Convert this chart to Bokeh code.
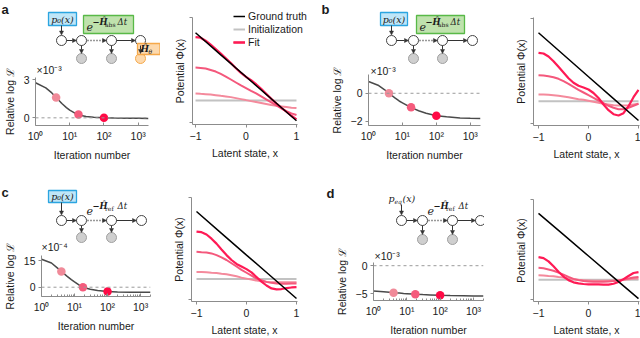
from bokeh.plotting import figure
from bokeh.models import (Range1d, FixedTicker, Span, Label, Legend, LegendItem,
                          Arrow, NormalHead, GridBox, CustomJSTickFormatter)
from bokeh.embed import file_html
from bokeh.resources import INLINE

# ---------------- data ----------------
iterations = [1, 2, 3, 4, 6, 8, 10, 15, 20, 30, 50, 100, 200, 500, 1000, 2000]
logL_a = [2.75, 2.35, 1.95, 1.6, 1.1, 0.8, 0.6, 0.33, 0.2, 0.11, 0.05, 0.01, -0.01, -0.03, -0.04, -0.05]
logL_b = [0.84, 0.55, 0.25, 0.0, -0.33, -0.55, -0.68, -0.92, -1.06, -1.25, -1.42, -1.6, -1.68, -1.76, -1.79, -1.8]
logL_c = [16, 13.8, 11, 9, 6.2, 4.3, 3.0, 0.7, -0.3, -1.2, -1.9, -2.5, -2.75, -2.85, -2.9, -2.9]
logL_d = [-4.5, -4.62, -4.72, -4.8, -4.88, -4.94, -4.98, -5.05, -5.1, -5.15, -5.2, -5.27, -5.32, -5.36, -5.39, -5.4]

snap_iters = [4, 18, 100]
snap_a = [1.6, 0.26, 0.0]
snap_b = [0.0, -1.0, -1.6]
snap_c = [9, 0, -2.5]
snap_d = [-4.8, -5.1, -5.27]

log_ticks = [1, 10, 100, 1000]
log_tick_labels = ["10⁰", "10¹", "10²", "10³"]
log_minor_ticks = [2, 3, 4, 5, 6, 7, 8, 9, 20, 30, 40, 50, 60, 70, 80, 90,
                   200, 300, 400, 500, 600, 700, 800, 900, 2000]
yticks_a, yticks_b, yticks_c, yticks_d = [0, 3], [-2, 0], [0, 15], [-5, 0]
mult_a, mult_b, mult_c, mult_d = "×10⁻³", "×10⁻³", "×10⁻⁴", "×10⁻³"

latent_x = [-1.0, -0.9, -0.8, -0.7, -0.6, -0.5, -0.4, -0.3, -0.2, -0.1, 0.0,
            0.1, 0.2, 0.3, 0.4, 0.5, 0.6, 0.7, 0.8, 0.9, 1.0]
truth_x = [-1.0, -0.5, 0.0, 0.5, 1.0]
init_x = [-1.0, 1.0]
pot_ticks = [-1, 0, 1]
legend_labels = ["Ground truth", "Initialization", "Fit"]

truth_a = [8.97, 6.75, 4.55, 2.34, 0.13]
init_a = [2.17, 2.17]
fit_a_early = [2.87, 2.83, 2.8, 2.77, 2.7, 2.63, 2.57, 2.5, 2.4, 2.3, 2.2, 2.1, 2.0, 1.9, 1.8, 1.7, 1.63, 1.57, 1.5, 1.43, 1.4]
fit_a_mid = [5.47, 5.43, 5.37, 5.23, 5.07, 4.83, 4.57, 4.27, 3.97, 3.67, 3.4, 3.13, 2.87, 2.57, 2.27, 1.97, 1.67, 1.37, 1.1, 0.87, 0.7]
fit_a_final = [8.53, 8.47, 8.17, 7.77, 7.33, 6.87, 6.4, 5.93, 5.4, 4.93, 4.53, 4.2, 3.8, 3.33, 2.83, 2.33, 1.87, 1.43, 1.03, 0.63, 0.27]

truth_b = [8.97, 6.78, 4.58, 2.39, 0.2]
init_b = [2.13, 2.13]
fit_b_early = [2.8, 2.8, 2.77, 2.73, 2.67, 2.6, 2.53, 2.43, 2.33, 2.27, 2.17, 2.07, 1.97, 1.87, 1.8, 1.73, 1.7, 1.7, 1.73, 1.8, 1.87]
fit_b_mid = [4.73, 4.7, 4.63, 4.53, 4.37, 4.13, 3.87, 3.57, 3.27, 3.0, 2.73, 2.47, 2.2, 1.93, 1.67, 1.47, 1.33, 1.33, 1.47, 1.67, 1.87]
fit_b_final = [6.97, 6.9, 6.6, 6.13, 5.57, 5.0, 4.43, 3.97, 3.67, 3.5, 3.3, 2.95, 2.45, 1.8, 1.23, 0.83, 0.7, 0.93, 1.63, 2.53, 3.27]

truth_c = [8.97, 6.75, 4.53, 2.32, 0.1]
init_c = [2.1, 2.1]
fit_c_early = [2.8, 2.8, 2.77, 2.73, 2.7, 2.63, 2.57, 2.47, 2.37, 2.23, 2.13, 2.03, 1.93, 1.87, 1.8, 1.77, 1.77, 1.77, 1.77, 1.77, 1.77]
fit_c_mid = [4.87, 4.83, 4.8, 4.7, 4.53, 4.3, 4.03, 3.7, 3.37, 3.03, 2.73, 2.43, 2.13, 1.97, 1.8, 1.7, 1.63, 1.6, 1.6, 1.63, 1.63]
fit_c_final = [6.93, 6.87, 6.63, 6.2, 5.7, 5.1, 4.53, 4.03, 3.63, 3.37, 3.1, 2.77, 2.3, 1.83, 1.43, 1.13, 1.03, 1.07, 1.17, 1.23, 1.27]

truth_d = [8.87, 6.68, 4.48, 2.29, 0.1]
init_d = [2.03, 2.03]
fit_d_early = [2.5, 2.47, 2.43, 2.4, 2.33, 2.27, 2.17, 2.1, 2.03, 2.0, 1.97, 1.93, 1.93, 1.93, 1.93, 1.97, 2.0, 2.03, 2.1, 2.13, 2.17]
fit_d_mid = [3.27, 3.23, 3.1, 2.97, 2.77, 2.57, 2.33, 2.13, 2.0, 1.9, 1.87, 1.83, 1.83, 1.83, 1.87, 1.9, 1.97, 2.07, 2.17, 2.27, 2.33]
fit_d_final = [4.37, 4.27, 3.93, 3.43, 2.87, 2.37, 2.0, 1.77, 1.67, 1.6, 1.57, 1.57, 1.57, 1.53, 1.53, 1.63, 1.8, 2.1, 2.43, 2.73, 2.83]

# ---------------- style ----------------
SANS = "Liberation Sans"
SERIF = "DejaVu Serif"
AXIS = "#8c8c8c"
TXT = "#1a1a1a"
FIT_COLORS = ["#f48a9c", "#f4587c", "#ff1a55"]
FIT_WIDTHS = [2, 2, 2.2]
SNAP_COLORS = ["#f08a99", "#f55b7c", "#ff0a45"]
INIT_COLOR = "#c2c2c2"


def base_fig(cell, x_range, y_range, frame=None, **kw):
    cl, ct, cr, cb = cell
    fl, ft, fr, fb = frame if frame else cell
    p = figure(width=int(cr - cl), height=int(cb - ct), x_range=x_range, y_range=y_range,
               output_backend="svg", toolbar_location=None, title=None,
               min_border_left=int(round(fl - cl)), min_border_right=int(round(cr - fr)),
               min_border_top=int(round(ft - ct)), min_border_bottom=int(round(cb - fb)), **kw)
    p.frame_align = False
    p.outline_line_color = None
    p.grid.visible = False
    p.background_fill_alpha = 0
    p.border_fill_alpha = 0
    return p


def blank_axes(p):
    """Keep the axes (so the figure lays out normally) but make them empty and zero-sized."""
    for ax in p.axis:
        ax.ticker = FixedTicker(ticks=[])
        ax.formatter = CustomJSTickFormatter(code="return ''")
        ax.axis_line_color = None
        ax.major_tick_line_color = None
        ax.minor_tick_line_color = None
        ax.major_tick_in = 0
        ax.major_tick_out = 0
        ax.minor_tick_in = 0
        ax.minor_tick_out = 0
        ax.major_label_standoff = 0
        ax.axis_label_standoff = 0


def style_axis(ax, label, lab_standoff, ax_standoff, tick_in, tick_out):
    ax.axis_label = label
    ax.axis_label_text_font = SANS
    ax.axis_label_text_font_size = "10.5px"
    ax.axis_label_text_font_style = "normal"
    ax.axis_label_text_color = TXT
    ax.axis_label_standoff = ax_standoff
    ax.major_label_text_font = SANS
    ax.major_label_text_font_size = "10.5px"
    ax.major_label_text_color = TXT
    ax.major_label_standoff = lab_standoff
    ax.axis_line_color = AXIS
    ax.major_tick_line_color = AXIS
    ax.minor_tick_line_color = AXIS
    ax.major_tick_in = tick_in
    ax.major_tick_out = tick_out
    ax.minor_tick_in = 2
    ax.minor_tick_out = 0


def logl_panel(cell, frame, yr, yticks, curve, snaps, minor):
    p = base_fig(cell, Range1d(1, 2000), Range1d(*yr), frame, x_axis_type="log")
    p.add_layout(Span(location=0, dimension="width", line_color="#9a9a9a",
                      line_dash="3 3", line_width=1))
    p.line(iterations, curve, line_color="#4a4a4a", line_width=1.5)
    p.scatter(snap_iters, snaps, size=8.5, fill_color=SNAP_COLORS, line_color=None)
    xa = p.xaxis[0]
    xa.ticker = FixedTicker(ticks=log_ticks, minor_ticks=log_minor_ticks if minor else [])
    xa.major_label_overrides = {t: l for t, l in zip(log_ticks, log_tick_labels)}
    style_axis(xa, "Iteration number", 4, 4, 3, 0)
    ya = p.yaxis[0]
    ya.ticker = FixedTicker(ticks=yticks)
    style_axis(ya, "Relative log ℒ", 3, 5, 0, 3)
    return p


def pot_panel(cell, frame, xr, yr, truth, init, fits):
    p = base_fig(cell, Range1d(*xr), Range1d(*yr), frame)
    p.line(init_x, init, line_color=INIT_COLOR, line_width=2)
    for f, c, w in zip(fits, FIT_COLORS, FIT_WIDTHS):
        p.line(latent_x, f, line_color=c, line_width=w)
    p.line(truth_x, truth, line_color="black", line_width=1.5)
    xa = p.xaxis[0]
    xa.ticker = FixedTicker(ticks=pot_ticks)
    style_axis(xa, "Latent state, x", 4, 4, 0, 3)
    ya = p.yaxis[0]
    ya.ticker = FixedTicker(ticks=[yr[0] + 0.2, yr[1] - 0.05])
    ya.formatter = CustomJSTickFormatter(code="return ''")
    style_axis(ya, "Potential Φ(x)", 0, 4, 0, 3)
    return p


def legend_overlay(cell, loc, truth, init, fits):
    """Transparent figure laid over panel a's potential plot, holding its legend.
    Its proxy lines use panel a's data but lie outside this figure's visible ranges."""
    p = base_fig(cell, Range1d(100, 101), Range1d(100, 101))
    blank_axes(p)
    r_truth = p.line(truth_x, truth, line_color="black", line_width=1.5)
    r_init = p.line(init_x, init, line_color=INIT_COLOR, line_width=2)
    r_fit = [p.line(latent_x, f, line_color=c, line_width=w)
             for f, c, w in zip(fits, FIT_COLORS, FIT_WIDTHS)]
    leg = Legend(items=[LegendItem(label=legend_labels[0], renderers=[r_truth]),
                        LegendItem(label=legend_labels[1], renderers=[r_init]),
                        LegendItem(label=legend_labels[2], renderers=r_fit)],
                 location=loc, border_line_color=None, background_fill_alpha=0,
                 padding=0, margin=0, spacing=1, label_height=12, glyph_height=12,
                 glyph_width=12, label_standoff=3, label_text_font=SANS,
                 label_text_font_size="10.5px", label_text_color=TXT)
    p.add_layout(leg)
    return p


# ---------------- schematic diagrams ----------------
def diag_fig(cell):
    cl, ct, cr, cb = cell
    p = base_fig(cell, Range1d(cl, cr), Range1d(cb, ct))
    blank_axes(p)
    return p


def txt(p, x, y, s, size, font=SERIF, style="italic", align="left", baseline="middle", color=TXT):
    p.add_layout(Label(x=x, y=y, text=s, text_font=font, text_font_size=size,
                       text_font_style=style, text_align=align, text_baseline=baseline,
                       text_color=color))


def arrow(p, x0, y0, x1, y1, dash="solid", width=1.0):
    p.add_layout(Arrow(end=NormalHead(size=4, fill_color="#333", line_color="#333", line_width=0.5),
                       x_start=x0, y_start=y0, x_end=x1, y_end=y1,
                       line_color="#333", line_width=width, line_dash=dash))


def chain(p, nodes_x, node_y, obs_x, obs_y, obs_fill, obs_line, r=5):
    for i in range(len(nodes_x) - 1):
        if i == 1:
            arrow(p, nodes_x[i] + r + 1, node_y, nodes_x[i + 1] - r, node_y, dash="1 2", width=1.6)
        else:
            arrow(p, nodes_x[i] + r, node_y, nodes_x[i + 1] - r, node_y)
    for ox in obs_x:
        arrow(p, ox, node_y + r, ox, obs_y - r)
    p.circle(obs_x, [obs_y] * len(obs_x), radius=r, fill_color=obs_fill,
             line_color=obs_line, line_width=1)
    p.circle(nodes_x, [node_y] * len(nodes_x), radius=r, fill_color="white",
             line_color="#444", line_width=1)


def box(p, l, t, r, b, fill, line):
    p.quad(left=[l], right=[r], top=[t], bottom=[b], fill_color=fill, line_color=line,
           line_width=1.3)


def exponent(p, x, y, sub):
    txt(p, x, y, "e", "11px")
    txt(p, x + 6, y - 5, "−Ĥ", "8.5px", style="bold italic")
    txt(p, x + 18.5, y - 2.5, sub, "6px", style="normal")
    txt(p, x + 31, y - 5, "Δt", "8.5px")


def p0_box(p, l, t, r, b):
    box(p, l, t, r, b, "#bfe6f8", "#2ba5e0")
    txt(p, (l + r) / 2, (t + b) / 2, "p₀(x)", "9.5px", align="center")


GRAY_FILL, GRAY_LINE = "#cfcfcf", "#a0a0a0"
ORANGE_FILL, ORANGE_LINE = "#fdd9ad", "#f6a94a"

CELL_A_L, CELL_A_R = (0, 0, 160, 168), (160, 0, 320, 168)
CELL_B_L, CELL_B_R = (320, 0, 484, 168), (484, 0, 640, 168)
CELL_C_L, CELL_C_R = (0, 168, 160, 338), (160, 168, 320, 338)
CELL_D_L, CELL_D_R = (320, 168, 484, 338), (484, 168, 640, 338)

# panel a diagram
dA = diag_fig(CELL_A_L)
txt(dA, 1, 1, "a", "13px", font=SANS, style="bold", baseline="top")
p0_box(dA, 48, 12, 76, 25)
arrow(dA, 61, 25, 61, 34.5)
box(dA, 83, 15, 133, 33, "#bfe2ad", "#58b947")
exponent(dA, 86, 26, "abs")
chain(dA, [61, 81, 111, 140], 40, [81, 111, 140], 58,
      [GRAY_FILL, GRAY_FILL, ORANGE_FILL], [GRAY_LINE, GRAY_LINE, ORANGE_LINE])
box(dA, 137, 43, 159.5, 54, ORANGE_FILL, ORANGE_LINE)
txt(dA, 140, 48.5, "Ĥ", "9px", style="bold italic")
txt(dA, 148, 51, "θ", "6px")
txt(dA, 36, 75, mult_a, "10.5px", font=SANS, style="normal", baseline="bottom")

# panel b diagram
dB = diag_fig(CELL_B_L)
txt(dB, 321, 1, "b", "13px", font=SANS, style="bold", baseline="top")
p0_box(dB, 380, 12, 407, 25)
arrow(dB, 391, 25, 391, 34.5)
box(dB, 416, 15, 464, 33, "#bfe2ad", "#58b947")
exponent(dB, 419, 26, "abs")
chain(dB, [391, 413, 442, 472], 40, [413, 442], 58,
      [GRAY_FILL, GRAY_FILL], [GRAY_LINE, GRAY_LINE])
txt(dB, 370, 76, mult_b, "10.5px", font=SANS, style="normal", baseline="bottom")

# panel c diagram
dC = diag_fig(CELL_C_L)
txt(dC, 1, 184, "c", "13px", font=SANS, style="bold", baseline="top")
p0_box(dC, 48, 190, 76, 202)
arrow(dC, 61, 202, 61, 214.5)
exponent(dC, 86, 210, "ref")
chain(dC, [61, 81, 111, 141], 220, [81, 111], 237,
      [GRAY_FILL, GRAY_FILL], [GRAY_LINE, GRAY_LINE])
txt(dC, 41, 252, mult_c, "10.5px", font=SANS, style="normal", baseline="bottom")

# panel d diagram
dD = diag_fig(CELL_D_L)
txt(dD, 326, 185, "d", "13px", font=SANS, style="bold", baseline="top")
txt(dD, 388, 198, "p", "9.5px")
txt(dD, 394, 200.5, "eq", "6px")
txt(dD, 402, 198, "(x)", "9.5px")
arrow(dD, 401, 204, 401, 214.5)
exponent(dD, 427, 210, "ref")
chain(dD, [401, 422, 452, 480], 220, [422, 452], 239,
      [GRAY_FILL, GRAY_FILL], [GRAY_LINE, GRAY_LINE])
txt(dD, 374, 261, mult_d, "10.5px", font=SANS, style="normal", baseline="bottom")

# ---------------- plots ----------------
lA = logl_panel(CELL_A_L, (34, 77, 148, 125), (-0.6, 3.16), yticks_a, logL_a, snap_a, False)
lB = logl_panel(CELL_B_L, (368, 74, 480, 125), (-2.3, 1.34), yticks_b, logL_b, snap_b, False)
lC = logl_panel(CELL_C_L, (40, 255, 150, 296), (-5.3, 18.1), yticks_c, logL_c, snap_c, True)
lD = logl_panel(CELL_D_L, (373, 262, 483, 303), (-6.2, 0.57), yticks_d, logL_d, snap_d, True)

pA = pot_panel(CELL_A_R, (192, 17, 297, 124.5), (-1.06, 1.02), (-0.25, 10.5),
               truth_a, init_a, [fit_a_early, fit_a_mid, fit_a_final])
pB = pot_panel(CELL_B_R, (533, 17, 639, 125), (-1.1, 1.02), (-0.3, 10.5),
               truth_b, init_b, [fit_b_early, fit_b_mid, fit_b_final])
pC = pot_panel(CELL_C_R, (191, 197, 297, 303), (-1.1, 1.02), (-0.2, 10.4),
               truth_c, init_c, [fit_c_early, fit_c_mid, fit_c_final])
pD = pot_panel(CELL_D_R, (533, 199, 639, 304), (-1.1, 1.02), (-0.2, 10.3),
               truth_d, init_d, [fit_d_early, fit_d_mid, fit_d_final])

# legend overlay: glyphs start at x=233, legend top at y~9.5 (reference pixels)
legA = legend_overlay(CELL_A_R, (233 - 160, int(168 - 9.5 - 38)),
                      truth_a, init_a, [fit_a_early, fit_a_mid, fit_a_final])

row_px = [168, 170]
col_px = [160, 160, 164, 156]

grid = GridBox(
    children=[(lA, 0, 0), (dA, 0, 0), (pA, 0, 1), (legA, 0, 1),
              (lB, 0, 2), (dB, 0, 2), (pB, 0, 3),
              (lC, 1, 0), (dC, 1, 0), (pC, 1, 1),
              (lD, 1, 2), (dD, 1, 2), (pD, 1, 3)],
    rows=[f"{h}px" for h in row_px],
    cols=[f"{w}px" for w in col_px],
    spacing=0,
)

open("out.html", "w").write(file_html(grid, INLINE))
